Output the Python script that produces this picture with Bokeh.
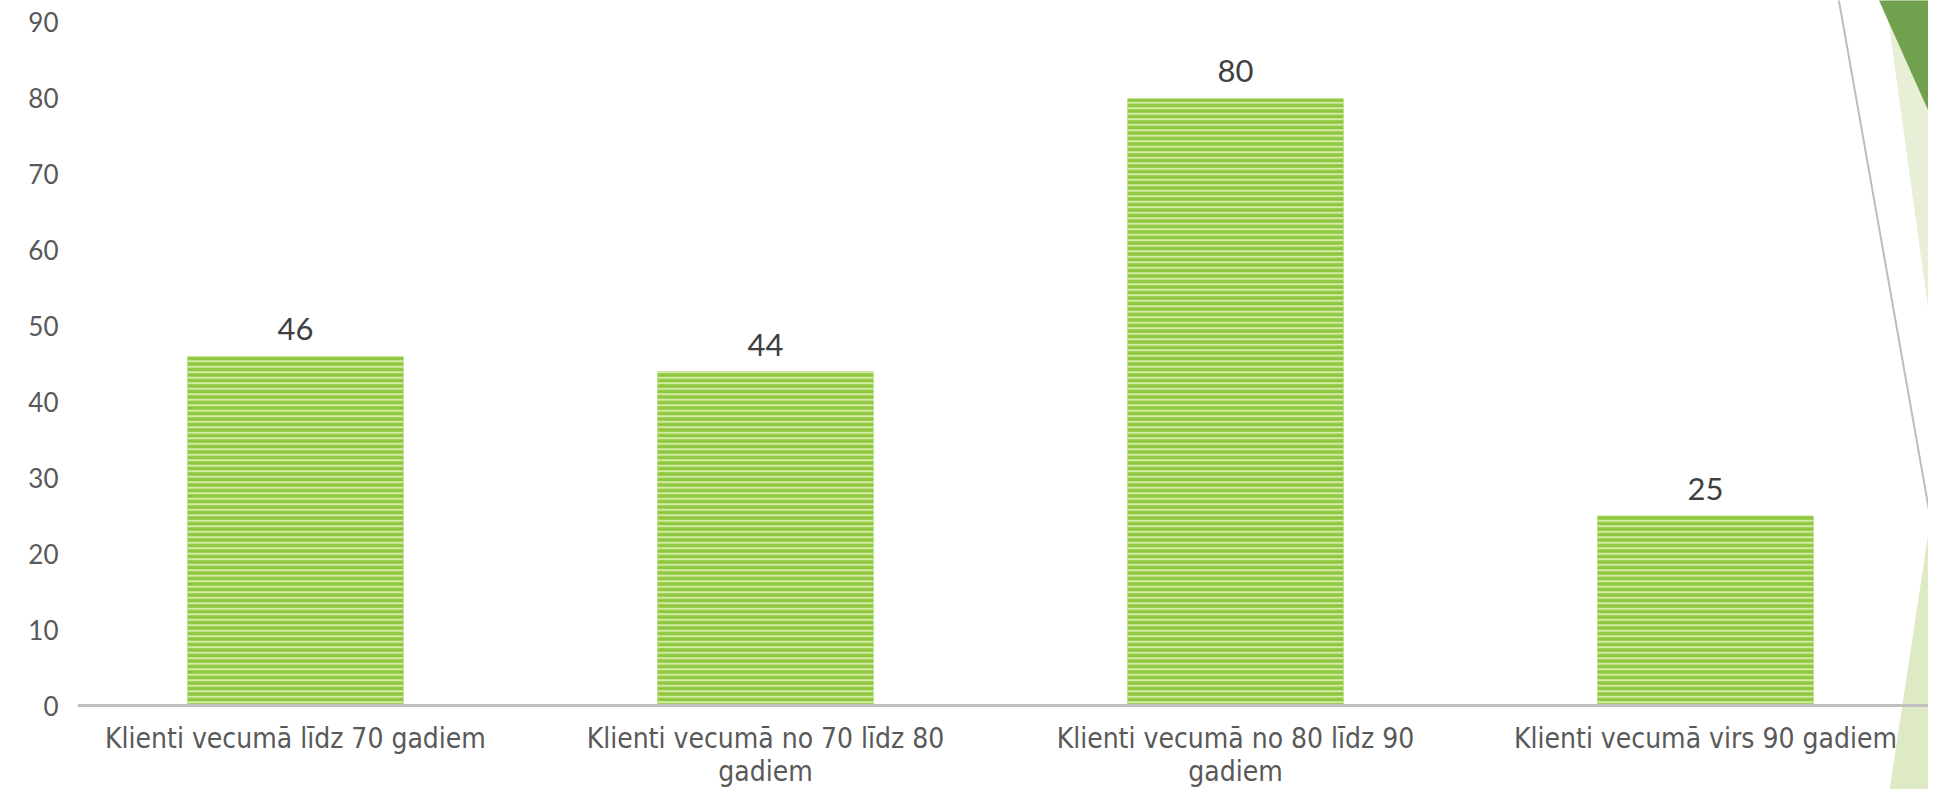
from bokeh.plotting import figure
from bokeh.models import Range1d, FixedTicker, PolyAnnotation
from bokeh.core.properties import value
from bokeh.embed import file_html
from bokeh.resources import INLINE

# ---- data ----
categories = [
    "Klienti vecumā līdz 70 gadiem",
    "Klienti vecumā no 70 līdz 80\ngadiem",
    "Klienti vecumā no 80 līdz 90\ngadiem",
    "Klienti vecumā virs 90 gadiem",
]
counts = [46, 44, 80, 25]
y_ticks = [0, 10, 20, 30, 40, 50, 60, 70, 80, 90]

# ---- layout ----
W, H = 1928, 789
FRAME_L = 77
ZERO_Y = 705          # pixel row (in figure) of value 0
CAT_PX = 470.0
UNIT_PX = 7.589
FIRST_CENTER_OFFSET = 218.0

xs = [i + 0.5 for i in range(len(categories))]
x0 = 0.5 - FIRST_CENTER_OFFSET / CAT_PX

p = figure(width=W, height=H, output_backend="svg", toolbar_location=None,
           x_range=Range1d(x0, x0 + (W - FRAME_L) / CAT_PX),
           y_range=Range1d(-(H - ZERO_Y) / UNIT_PX, ZERO_Y / UNIT_PX),
           min_border_left=FRAME_L, min_border_right=0,
           min_border_top=0, min_border_bottom=0)
p.xgrid.visible = False
p.ygrid.visible = False
p.outline_line_color = None
p.background_fill_color = "white"
p.border_fill_color = "white"

# decorations (slide theme shapes), in canvas pixels (page coords minus 8px margin)
def canvas_poly(pts, **kw):
    return PolyAnnotation(xs=[x - 8 for x, _ in pts], ys=[y - 8 for _, y in pts],
                          xs_units="canvas", ys_units="canvas", level="underlay", **kw)

p.add_layout(canvas_poly([(1892, 0), (1950, 0), (1950, 420)],
                         fill_color="#E7F0D6", fill_alpha=1, line_alpha=0))
p.add_layout(canvas_poly([(1883, 0), (1950, 0), (1950, 150)],
                         fill_color="#71A04F", fill_alpha=1, line_alpha=0))
p.add_layout(canvas_poly([(1944, 486), (1896, 805), (1950, 805), (1950, 486)],
                         fill_color="#DDEAC4", fill_alpha=1, line_alpha=0))
p.add_layout(canvas_poly([(1845, 0), (1944, 560)],
                         fill_alpha=0, line_color="#BDBDBD", line_alpha=1, line_width=2))

# bars
p.vbar(x=xs, top=counts, bottom=0, width=0.46,
       fill_color="#8FC840", line_color=None,
       hatch_pattern="-", hatch_color="#D3EBA6", hatch_weight=2, hatch_scale=5.5)

# value labels
p.text(x=xs, y=counts, text=[str(c) for c in counts],
       text_align="center", text_baseline="alphabetic", y_offset=-27,
       text_font=value("Lato"), text_font_size="31px", text_color="#404040")

# y axis
ya = p.yaxis[0]
ya.ticker = FixedTicker(ticks=y_ticks)
ya.axis_line_color = None
ya.major_tick_line_color = None
ya.minor_tick_line_color = None
ya.major_label_standoff = 13
ya.major_label_text_font = "Lato"
ya.major_label_text_font_size = "26px"
ya.major_label_text_color = "#595959"

# x axis, pinned at value 0
xa = p.xaxis[0]
xa.fixed_location = 0
xa.ticker = FixedTicker(ticks=xs)
xa.major_label_overrides = {x: c for x, c in zip(xs, categories)}
xa.axis_line_color = "#BFBFBF"
xa.axis_line_width = 3
xa.major_tick_line_color = None
xa.minor_tick_line_color = None
xa.major_label_standoff = 10
xa.major_label_text_font = "'DejaVu Sans Condensed', 'DejaVu Sans'"
xa.major_label_text_font_size = "28px"
xa.major_label_text_color = "#595959"
xa.major_label_text_line_height = 1.0

open("out.html", "w").write(file_html(p, INLINE))
